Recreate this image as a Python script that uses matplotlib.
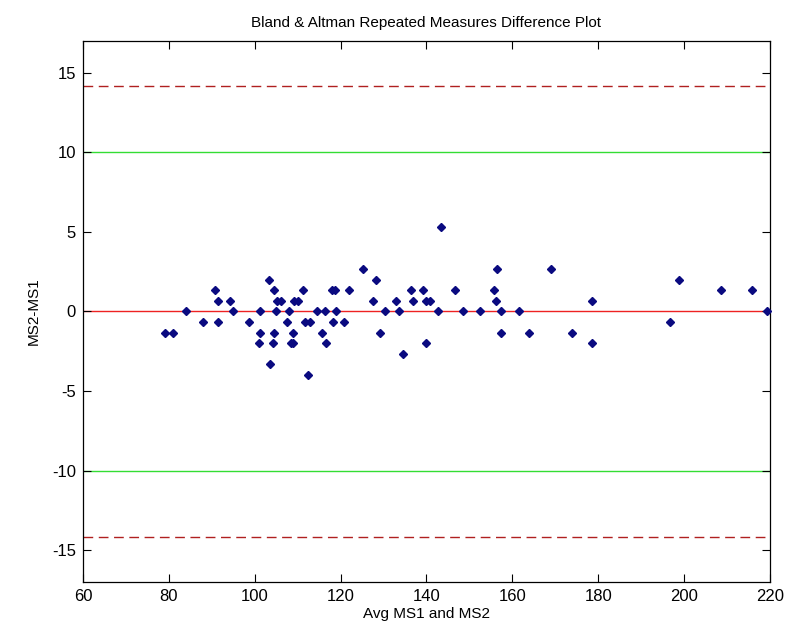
import matplotlib
matplotlib.use("Agg")
import matplotlib.pyplot as plt

avg = [79.1, 80.9, 84.0, 88.0, 90.7, 91.4, 91.4, 94.3, 95.0, 98.7,
       101.3, 101.2, 101.1, 103.3, 104.6, 105.1, 106.2, 104.9, 104.5, 104.2,
       103.5, 107.9, 107.5, 109.2, 110.1, 109.0, 108.4, 109.0, 111.3, 111.6,
       112.8, 112.5, 114.6, 116.4, 115.6, 116.7, 117.9, 118.8, 119.0, 118.2,
       120.9, 121.9, 125.3, 128.2, 127.5, 130.4, 129.2, 133.0, 133.7, 134.5,
       136.3, 136.8, 139.3, 139.9, 140.8, 140.0, 142.6, 143.4, 146.6, 148.4,
       152.5, 156.5, 155.8, 156.2, 157.3, 157.3, 161.6, 163.9, 169.1, 173.8,
       178.6, 178.6, 196.7, 198.9, 208.6, 215.9, 219.2]
diff = [-1.33, -1.33, 0, -0.67, 1.33, 0.67, -0.67, 0.67, 0, -0.67,
        0, -1.33, -2, 2, 1.33, 0.67, 0.67, 0, -1.33, -2,
        -3.33, 0, -0.67, 0.67, 0.67, -1.33, -2, -2, 1.33, -0.67,
        -0.67, -4, 0, 0, -1.33, -2, 1.33, 1.33, 0, -0.67,
        -0.67, 1.33, 2.67, 2, 0.67, 0, -1.33, 0.67, 0, -2.67,
        1.33, 0.67, 1.33, 0.67, 0.67, -2, 0, 5.33, 1.33, 0,
        0, 2.67, 1.33, 0.67, 0, -1.33, 0, -1.33, 2.67, -1.33,
        0.67, -2, -0.67, 2, 1.33, 1.33, 0]

mean_line = 0.0
limits = [14.2, -14.2]
clinical = [10, -10]
xticks = [60, 80, 100, 120, 140, 160, 180, 200, 220]
yticks = [-15, -10, -5, 0, 5, 10, 15]

plt.rcParams['font.family'] = ['Liberation Sans', 'DejaVu Sans']
plt.rcParams['axes.unicode_minus'] = False

fig = plt.figure(figsize=(7.86, 6.38), dpi=100)
ax = fig.add_axes([0.1056, 0.0878, 0.874, 0.848])

xmin, xmax = 60, 220
for c in clinical:
    ax.axhline(c, color='#33dd33', lw=1.0, zorder=1)
for l in limits:
    ax.axhline(l, color='#b02020', lw=1.0, ls=(0, (7, 4)), zorder=1)
ax.axhline(mean_line, color='#ee2222', lw=1.0, zorder=1)

ax.plot(avg, diff, ls='none', marker='D', markersize=3.8,
        color='#0a0a80', markeredgecolor='#0a0a80', zorder=3, clip_on=False)

ax.set_xlim(xmin, xmax)
ax.set_ylim(-17, 17)
ax.set_xticks(xticks)
ax.set_yticks(yticks)
ax.tick_params(direction='in', length=6, width=0.8, top=True, right=True,
               labelsize=12, pad=5, colors='black')
for s in ax.spines.values():
    s.set_linewidth(0.9)

ax.set_title('Bland & Altman Repeated Measures Difference Plot', fontsize=11, pad=10)
ax.set_xlabel('Avg MS1 and MS2', fontsize=11, labelpad=2)
ax.set_ylabel('MS2-MS1', fontsize=11, labelpad=8)

fig.savefig('out.png', dpi=100)
